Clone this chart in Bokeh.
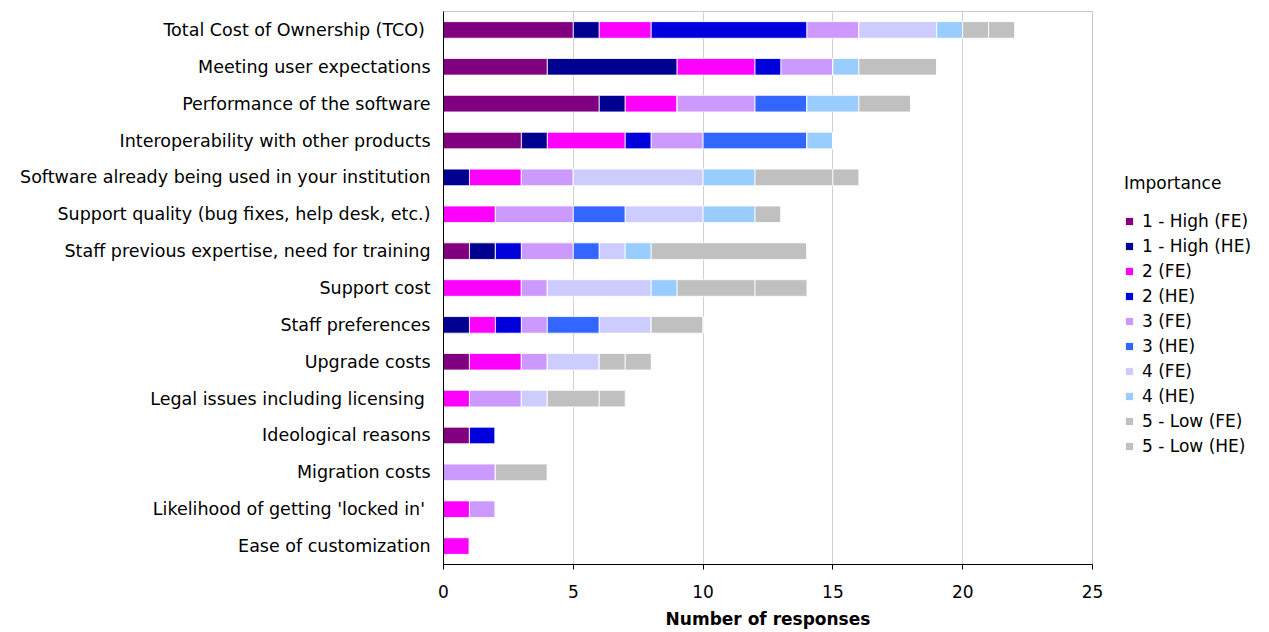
from bokeh.plotting import figure
from bokeh.models import Legend, LegendItem, FactorRange, SingleIntervalTicker
from bokeh.embed import file_html
from bokeh.resources import INLINE

categories = [
    "Total Cost of Ownership (TCO) ",
    "Meeting user expectations",
    "Performance of the software",
    "Interoperability with other products",
    "Software already being used in your institution",
    "Support quality (bug fixes, help desk, etc.)",
    "Staff previous expertise, need for training",
    "Support cost",
    "Staff preferences",
    "Upgrade costs",
    "Legal issues including licensing ",
    "Ideological reasons",
    "Migration costs",
    "Likelihood of getting 'locked in' ",
    "Ease of customization",
]

series_names = ["1 - High (FE)", "1 - High (HE)", "2 (FE)", "2 (HE)", "3 (FE)",
                "3 (HE)", "4 (FE)", "4 (HE)", "5 - Low (FE)", "5 - Low (HE)"]

high_fe = [5, 4, 6, 3, 0, 0, 1, 0, 0, 1, 0, 1, 0, 0, 0]
high_he = [1, 5, 1, 1, 1, 0, 1, 0, 1, 0, 0, 0, 0, 0, 0]
two_fe  = [2, 3, 2, 3, 2, 2, 0, 3, 1, 2, 1, 0, 0, 1, 1]
two_he  = [6, 1, 0, 1, 0, 0, 1, 0, 1, 0, 0, 1, 0, 0, 0]
three_fe = [2, 2, 3, 2, 2, 3, 2, 1, 1, 1, 2, 0, 2, 1, 0]
three_he = [0, 0, 2, 4, 0, 2, 1, 0, 2, 0, 0, 0, 0, 0, 0]
four_fe = [3, 0, 0, 0, 5, 3, 1, 4, 2, 2, 1, 0, 0, 0, 0]
four_he = [1, 1, 2, 1, 2, 2, 1, 1, 0, 0, 0, 0, 0, 0, 0]
low_fe  = [1, 3, 2, 0, 3, 1, 6, 3, 2, 1, 2, 0, 2, 0, 0]
low_he  = [1, 0, 0, 0, 1, 0, 0, 2, 0, 1, 1, 0, 0, 0, 0]

colors = ["#800080", "#000090", "#FF00FF", "#0000DD", "#CC99FF",
          "#3366FF", "#CCCCFF", "#99CCFF", "#C0C0C0", "#C0C0C0"]

keys = ["s%d" % i for i in range(10)]
data = {"cat": categories}
for k, v in zip(keys, [high_fe, high_he, two_fe, two_he, three_fe, three_he,
                       four_fe, four_he, low_fe, low_he]):
    data[k] = v

FONT = "DejaVu Sans"
FS = "17px"

p = figure(frame_width=649, frame_height=553, output_backend="svg", toolbar_location=None,
           y_range=FactorRange(*list(reversed(categories))),
           x_range=(0, 25),
           min_border_left=443, min_border_right=10, min_border_top=11,
           min_border_bottom=66)

renderers = p.hbar_stack(keys, y="cat", height=0.45, color=colors, source=data,
                         line_color="white", line_width=1, line_alpha=0.8)

items = [LegendItem(label=n, renderers=[r]) for n, r in zip(series_names, renderers)]
legend = Legend(items=items, location=(32, 108), title="Importance",
                title_text_font=FONT, title_text_font_size=FS, title_text_color="black",
                title_text_font_style="normal", title_standoff=18,
                label_text_font=FONT, label_text_font_size=FS, label_text_color="black",
                glyph_width=10, glyph_height=10, label_height=20, spacing=5,
                label_standoff=8, padding=0, margin=0,
                border_line_color=None, background_fill_alpha=0)
p.add_layout(legend, "right")

p.xaxis.ticker = SingleIntervalTicker(interval=5)
p.xaxis.axis_label = "Number of responses"
p.xaxis.axis_label_text_font = FONT
p.xaxis.axis_label_text_font_size = FS
p.xaxis.axis_label_text_font_style = "bold"
p.xaxis.axis_label_text_color = "black"
p.xaxis.axis_label_standoff = 8
p.xaxis.major_label_text_font = FONT
p.xaxis.major_label_text_font_size = FS
p.xaxis.major_label_text_color = "black"
p.xaxis.major_label_standoff = 15
p.xaxis.minor_tick_line_color = None
p.xaxis.major_tick_in = 0
p.xaxis.major_tick_out = 5
p.xaxis.axis_line_color = "black"
p.xaxis.major_tick_line_color = "black"

p.yaxis.major_label_text_font = FONT
p.yaxis.major_label_text_font_size = "17.5px"
p.yaxis.major_label_text_color = "black"
p.yaxis.major_tick_line_color = None
p.yaxis.major_tick_in = 0
p.yaxis.major_tick_out = 0
p.yaxis.major_label_standoff = 13
p.yaxis.axis_line_color = "black"

p.ygrid.grid_line_color = None
p.xgrid.grid_line_color = "#d0d0d0"
p.xgrid.grid_line_width = 1
p.outline_line_color = "#c8c8c8"
p.y_range.range_padding = 0

open("out.html", "w").write(file_html(p, INLINE))
